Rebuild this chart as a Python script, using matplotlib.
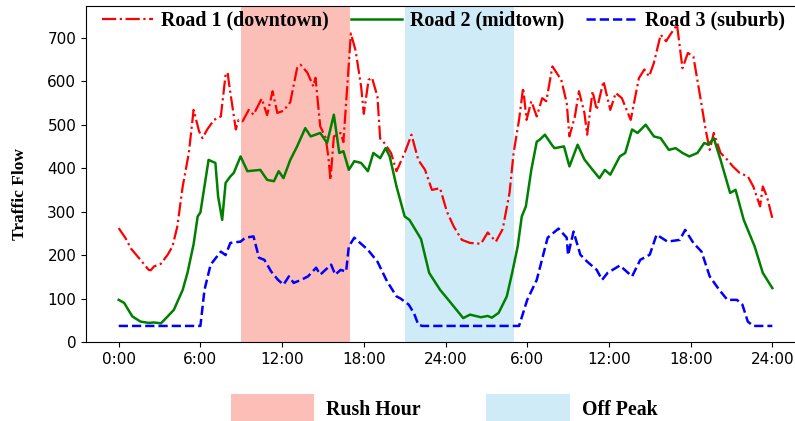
import matplotlib
matplotlib.use("Agg")
import matplotlib.pyplot as plt
from matplotlib.patches import Patch

# hour of the two-day window (0..48) and traffic flow for each road
road1_hours = [0, 0.5, 0.9, 1.6, 2.2, 2.35, 2.6, 3.1, 3.6, 3.95, 4.3, 4.7, 5.15, 5.5, 5.9,
               6.15, 6.5, 7.0, 7.5, 7.85, 8.0, 8.1, 8.6, 8.8, 9.1, 9.55, 9.9, 10.5, 10.9,
               11.3, 11.65, 12.1, 12.6, 13.1, 13.35, 13.85, 14.3, 14.45, 14.8, 15.2, 15.4,
               15.55, 15.8, 16.3, 16.5, 16.9, 17.05, 17.4, 17.8, 18.0, 18.35, 18.6, 19.0,
               19.2, 19.5, 20.0, 20.4, 21.0, 21.5, 22.0, 22.5, 23.0, 23.6, 24.1, 24.6,
               25.2, 25.8, 26.6, 27.1, 27.7, 28.2, 28.7, 29.0, 29.4, 29.7, 29.95, 30.3,
               30.7, 31.1, 31.4, 31.85, 32.5, 32.9, 33.1, 33.5, 33.8, 34.2, 34.4, 34.8,
               35.1, 35.6, 36.1, 36.5, 36.95, 37.6, 38.2, 38.6, 38.95, 39.3, 39.8, 40.2,
               40.5, 41.0, 41.4, 41.8, 42.2, 42.7, 43.1, 43.4, 43.7, 44.2, 44.7, 45.1,
               45.6, 46.2, 46.6, 47.1, 47.3, 47.6, 48.0]
road1_flow = [262, 239, 215, 189, 166, 165, 174, 180, 201, 220, 265, 358, 435, 534, 485,
              469, 489, 511, 519, 615, 620, 595, 489, 511, 508, 534, 523, 560, 522,
              577, 527, 532, 552, 630, 638, 620, 588, 608, 496, 470, 425,
              373, 473, 481, 460, 640, 710, 670, 588, 525, 603, 608, 565,
              468, 458, 435, 393, 435, 477, 419, 396, 350, 354, 300, 266,
              235, 228, 226, 252, 231, 260, 343, 435, 511, 585, 511, 554,
              519, 561, 554, 634, 603, 550, 473, 519, 577, 527, 477, 577,
              534, 600, 534, 573, 561, 511, 607, 627, 611, 642, 707, 692,
              707, 730, 630, 665, 657, 565, 489, 442, 481, 435, 419, 404,
              389, 381, 358, 312, 358, 335, 285]

road2_hours = [0, 0.4, 1.0, 1.6, 2.2, 2.6, 3.1, 3.6, 4.05, 4.7, 5.05, 5.5, 5.8, 6.0, 6.6,
               7.1, 7.3, 7.6, 7.85, 8.2, 8.45, 8.95, 9.45, 10.4, 10.9, 11.4, 11.75, 12.1,
               12.6, 13.1, 13.7, 14.1, 14.8, 15.3, 15.8, 16.2, 16.5, 16.9, 17.3, 17.8,
               18.3, 18.7, 19.2, 19.6, 19.9, 20.4, 21.0, 21.35, 22.2, 22.8, 23.6, 24.0,
               24.6, 25.3, 25.8, 26.6, 27.1, 27.4, 27.9, 28.5, 28.9, 29.3, 29.6, 29.9,
               30.3, 30.7, 30.9, 31.3, 31.8, 32.0, 32.7, 33.1, 33.7, 34.2, 34.6, 35.3,
               35.7, 36.1, 36.8, 37.2, 37.7, 38.1, 38.7, 39.3, 39.8, 40.4, 40.9, 41.4,
               41.9, 42.5, 43.0, 43.3, 43.7, 44.2, 44.9, 45.3, 45.9, 46.7, 47.3, 48.0]
road2_flow = [97, 90, 59, 47, 44, 45, 43, 59, 74, 120, 159, 225, 289, 298, 419,
              412, 335, 281, 366, 381, 389, 427, 393, 396, 373, 370, 393, 377,
              419, 450, 492, 473, 481, 458, 523, 435, 439, 396, 416, 412,
              393, 435, 423, 446, 427, 358, 289, 281, 237, 159, 120, 105,
              82, 55, 63, 57, 60, 56, 67, 105, 160, 220, 289, 312,
              396, 461, 465, 477, 454, 446, 450, 404, 454, 420, 404, 377,
              396, 385, 427, 435, 489, 481, 500, 473, 469, 442, 446, 435,
              427, 435, 458, 454, 469, 419, 343, 350, 281, 220, 159, 124]

road3_hours = [0, 6.0, 6.3, 6.75, 7.5, 7.85, 8.2, 8.95, 9.3, 9.9, 10.3, 10.7, 11.2, 11.7,
               12.1, 12.5, 12.85, 13.4, 13.9, 14.5, 14.8, 15.6, 15.9, 16.3, 16.7, 16.9,
               17.3, 18.3, 19.0, 19.7, 20.4, 20.7, 21.3, 21.7, 22.0, 22.3, 29.4, 30.0,
               30.7, 31.5, 32.3, 32.9, 33.0, 33.4, 33.9, 34.4, 35.1, 35.5, 35.9, 36.8,
               37.7, 38.3, 39.0, 39.5, 40.3, 41.2, 41.6, 42.2, 42.8, 43.4, 44.1, 44.7,
               45.4, 45.8, 46.2, 46.6, 48.0]
road3_flow = [37, 37, 120, 178, 208, 200, 228, 231, 240, 243, 194, 189, 162, 143,
              132, 151, 136, 143, 151, 171, 155, 178, 155, 166, 162, 220,
              240, 212, 185, 140, 105, 100, 86, 65, 40, 37, 37, 97,
              143, 240, 261, 240, 200, 254, 201, 185, 166, 143, 159, 176,
              151, 189, 201, 247, 231, 235, 258, 228, 208, 151, 120, 97,
              97, 86, 47, 37, 37]

rush_hour = (9, 17)
off_peak = (21, 29)
tick_hours = [0, 6, 12, 18, 24, 30, 36, 42, 48]
tick_labels = ['0:00', '6:00', '12:00', '18:00', '24:00', '6:00', '12:00', '18:00', '24:00']

serif_bold = {'family': 'Liberation Serif', 'weight': 'bold'}

fig = plt.figure(figsize=(7.95, 4.21), dpi=100)
ax = fig.add_axes([0.1082, 0.1876, 0.9044, 0.7981])

ax.axvspan(*rush_hour, color='salmon', alpha=0.5, lw=0)
ax.axvspan(*off_peak, color='skyblue', alpha=0.4, lw=0)

ax.plot(road1_hours, road1_flow, color='red', ls='-.', lw=1.6, label='Road 1 (downtown)')
ax.plot(road2_hours, road2_flow, color='green', ls='-', lw=1.8, label='Road 2 (midtown)')
ax.plot(road3_hours, road3_flow, color='blue', ls='--', lw=1.8, label='Road 3 (suburb)')

ax.set_xlim(-2.4, 50.4)
ax.set_ylim(0, 773)
ax.set_xticks(tick_hours)
ax.set_xticklabels(tick_labels, fontsize=11)
ax.tick_params(axis='y', labelsize=11)
ax.set_ylabel('Traffic Flow', fontdict=dict(serif_bold, size=12.5))
ax.yaxis.set_label_coords(-0.08, 0.44)

ax.legend(loc='upper center', bbox_to_anchor=(0.497, 1.04), ncol=3, frameon=False,
          prop=dict(serif_bold, size=14.4), handlelength=2.55, handletextpad=0.4,
          columnspacing=1.1)

span_handles = [Patch(facecolor='salmon', alpha=0.5, label='Rush Hour'),
                Patch(facecolor='skyblue', alpha=0.4, label='Off Peak')]
fig.legend(handles=span_handles, loc='center', bbox_to_anchor=(0.5585, 0.03), ncol=2,
           frameon=False, prop=dict(serif_bold, size=14.3), handlelength=4.2,
           handleheight=1.9, handletextpad=0.6, columnspacing=3.3)

fig.savefig('out.png', dpi=100)
